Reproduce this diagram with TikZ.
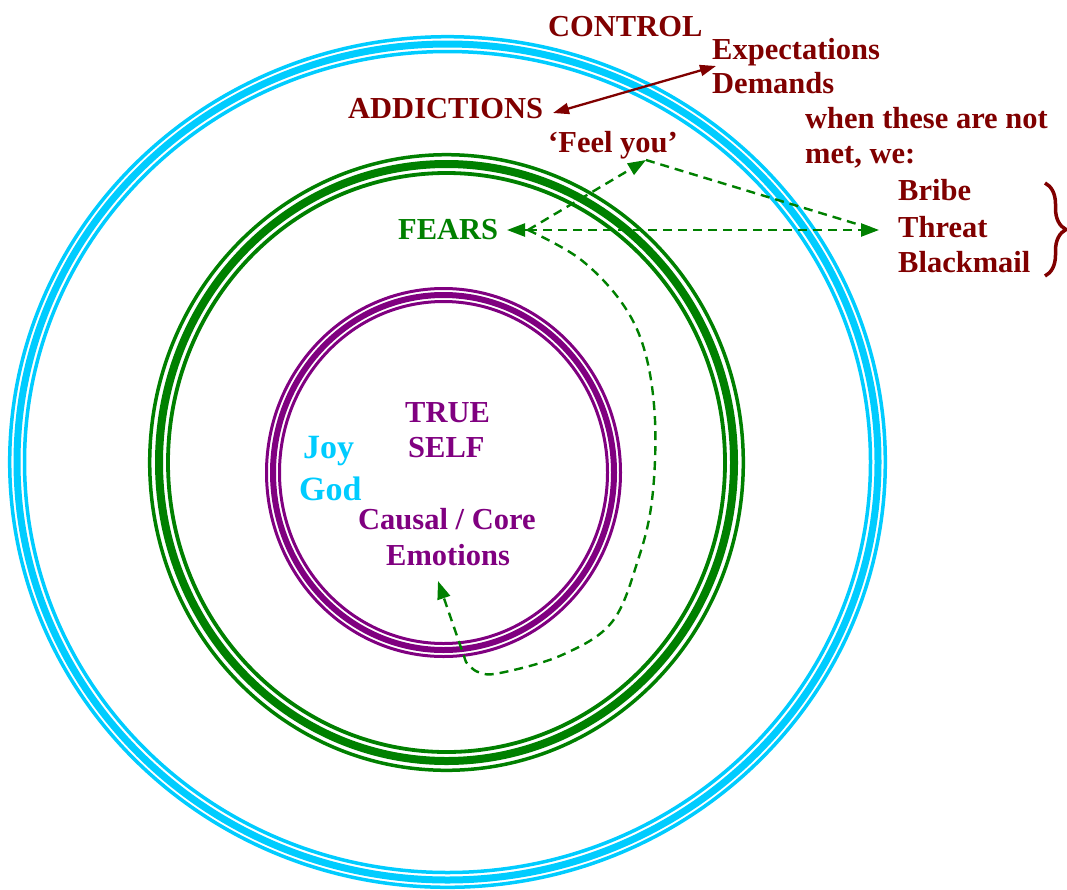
\documentclass[tikz,border=0pt]{standalone}
\usepackage{fontspec}
\setmainfont{Liberation Serif}
\usetikzlibrary{arrows.meta,decorations.pathreplacing}
\definecolor{dred}{RGB}{128,0,0}
\definecolor{dgreen}{RGB}{0,128,0}
\definecolor{purp}{RGB}{128,0,128}
\definecolor{skyc}{RGB}{0,204,255}
\begin{document}
\begin{tikzpicture}[x=1pt,y=-1pt,
  lbl/.style={anchor=base west, inner sep=0pt, font=\bfseries\fontsize{30.5}{36}\selectfont},
  redlbl/.style={lbl, text=dred},
  gd/.style={draw=dgreen, line width=2.4pt, dash pattern=on 9pt off 6pt},
  gtip/.style={-{Triangle[length=18pt,width=13pt]}},
  redarrow/.style={draw=dred, line width=2.3pt, {Triangle[length=16pt,width=11pt]}-{Triangle[length=16pt,width=11pt]}},
  thinring/.style={line width=3.5pt},
  thickring/.style={line width=7pt}]
\useasboundingbox (0,0) rectangle (1067,889);
\fill[white] (0,0) rectangle (1067,889);

% outer (cyan) ring
\draw[skyc, thinring]  (447.5,462) ellipse [x radius=437.8pt, y radius=425.3pt];
\draw[skyc, thickring] (447.5,462) ellipse [x radius=430.5pt, y radius=418pt];
\draw[skyc, thinring]  (447.5,462) ellipse [x radius=423pt, y radius=410.5pt];
% middle (green) ring
\draw[dgreen, thinring]  (446.5,462.5) ellipse [x radius=296.8pt, y radius=307.8pt];
\draw[dgreen, line width=8pt] (446.5,462.5) ellipse [x radius=287.5pt, y radius=298.5pt];
\draw[dgreen, line width=3.8pt]  (446.5,462.5) ellipse [x radius=278.5pt, y radius=289.5pt];
% inner (purple) ring
\draw[purp, line width=3pt] (443.5,472.5) ellipse [x radius=177pt, y radius=184pt];
\draw[purp, line width=6pt]   (443.5,472.5) ellipse [x radius=170.5pt, y radius=177.5pt];
\draw[purp, line width=3pt] (443.5,472.5) ellipse [x radius=164pt, y radius=171pt];

% texts
\node[redlbl] (control) at (548,36) {CONTROL};
\node[redlbl] (expect) at (712,59) {Expectations};
\node[redlbl] (demands) at (712,93) {Demands};
\node[redlbl] (addict) at (348,118) {ADDICTIONS};
\node[redlbl] (feel) at (548,152) {‘Feel you’};
\node[redlbl] (when) at (805,128) {when these are not};
\node[redlbl] (met) at (805,163) {met, we:};
\node[redlbl] (bribe) at (898,200) {Bribe};
\node[redlbl] (threat) at (898,237) {Threat};
\node[redlbl] (black) at (898,272) {Blackmail};
\node[lbl, text=dgreen] (fears) at (398,239) {FEARS};
\node[lbl, text=purp] (true) at (405,422) {TRUE};
\node[lbl, text=purp] (self) at (408,457) {SELF};
\node[lbl, text=skyc, font=\bfseries\fontsize{34}{38}\selectfont] (joy) at (303,458) {Joy};
\node[lbl, text=skyc, font=\bfseries\fontsize{34}{38}\selectfont] (god) at (299,500) {God};
\node[lbl, text=purp] (causal) at (358,529) {Causal / Core};
\node[lbl, text=purp] (emot) at (386,565) {Emotions};

% brace
\draw[dred, line width=3.5pt, decorate, decoration={brace, amplitude=21pt}] (1045,183) -- (1045,276);

% connector coordinates
\coordinate (addtip) at (553,113);
\coordinate (exptip) at (716,66);
\coordinate (hub) at (528,230);
\coordinate (fearstip) at (507,230);
\coordinate (feeltip) at (646,160);
\coordinate (bribetip) at (879,230);
\coordinate (feelend) at (870,228);
\coordinate (coretip) at (438,581);

% red double arrow
\draw[redarrow] (addtip) -- (exptip);

% green dashed arrows
\draw[gd, gtip] (hub) -- (fearstip);
\draw[gd, gtip] (hub) -- (feeltip);
\draw[gd] (feeltip) -- (feelend);
\draw[gd, gtip] (hub) -- (bribetip);
\draw[gd, gtip] plot[smooth, tension=0.6] coordinates {(hub) (580,259) (622,303) (645,352) (655,420) (652,500) (638,560) (612,622) (562,655) (500,673) (478,672) (466,662)} -- (coretip);
\end{tikzpicture}
\end{document}
